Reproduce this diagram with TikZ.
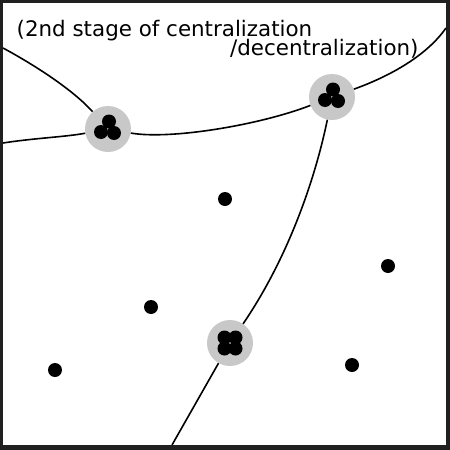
\documentclass[tikz,border=0pt]{standalone}
\usepackage{fontspec}
\setmainfont{DejaVu Sans}
\definecolor{framec}{HTML}{202020}
\definecolor{haloc}{HTML}{C8C8C8}
\begin{document}
\begin{tikzpicture}[x=1pt,y=-1pt,
  halo/.style={circle, fill=haloc, minimum size=46pt, inner sep=0pt},
  dot/.style={circle, fill=black, minimum size=14pt, inner sep=0pt},
  link/.style={line width=1.6pt, black},
  lbl/.style={inner sep=0pt, font=\fontsize{21.4}{21.4}\selectfont}]
\fill[framec] (0,0) rectangle (450,450);
\fill[white] (3,3) rectangle (446,445);
\useasboundingbox (0,0) rectangle (450,450);

% text
\node[lbl, anchor=base west] (t1) at (16.5,36.7) {(2nd stage of centralization};
\node[lbl, anchor=base east] (t2) at (418.7,55.5) {/decentralization)};

% edge coordinates
\coordinate (eA) at (3,48);
\coordinate (eB) at (3,143);
\coordinate (eT) at (446,28);
\coordinate (eC) at (172,445);

% clusters
\node[halo] (n1) at (108,129) {};
\node[halo] (n2) at (332,97) {};
\node[halo] (n3) at (230,343) {};

\node[dot] (n1a) at ([shift={(1,-7.5)}]n1) {};
\node[dot] (n1b) at ([shift={(-7,3)}]n1) {};
\node[dot] (n1c) at ([shift={(6,4)}]n1) {};

\node[dot] (n2a) at ([shift={(1,-7.5)}]n2) {};
\node[dot] (n2b) at ([shift={(-7,3)}]n2) {};
\node[dot] (n2c) at ([shift={(6,4)}]n2) {};

\node[dot] (n3a) at ([shift={(-5.5,-5.5)}]n3) {};
\node[dot] (n3b) at ([shift={(5.5,-5.5)}]n3) {};
\node[dot] (n3c) at ([shift={(-5.5,5.5)}]n3) {};
\node[dot] (n3d) at ([shift={(5.5,5.5)}]n3) {};

% single dots
\node[dot] (s1) at (225,199) {};
\node[dot] (s2) at (388,266) {};
\node[dot] (s3) at (151,307) {};
\node[dot] (s4) at (55,370) {};
\node[dot] (s5) at (352,365) {};

% connectors
\draw[link] (eA) .. controls (40,68) and (75,92) .. (n1);
\draw[link] (eB) .. controls (35,138) and (65,137) .. (n1);
\draw[link] (n1) .. controls (170,140) and (260,125) .. (n2);
\draw[link] (n2) .. controls (385,78) and (425,58) .. (eT);
\draw[link] (n2) .. controls (316,175) and (290,255) .. (n3);
\draw[link] (n3) -- (eC);
\end{tikzpicture}
\end{document}
